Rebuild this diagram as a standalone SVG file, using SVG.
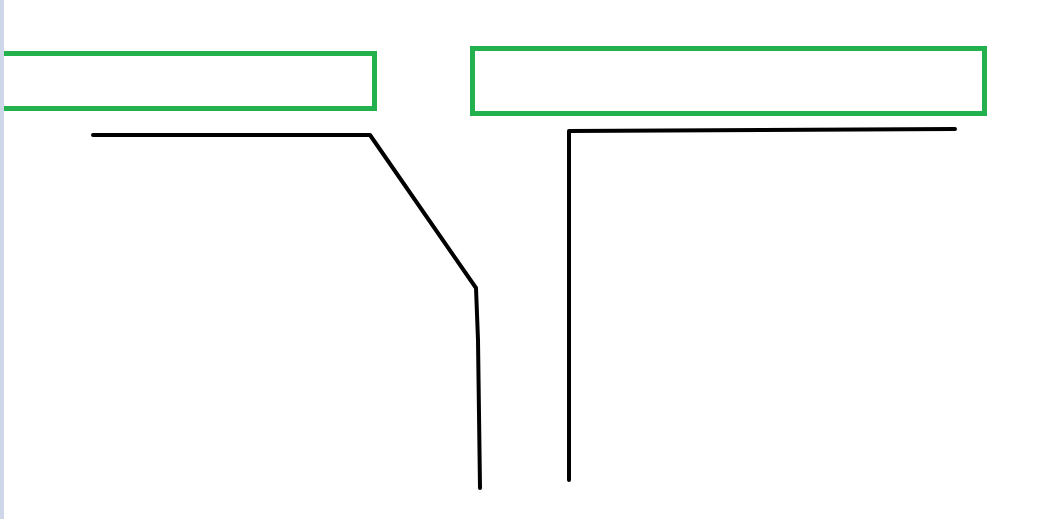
<svg xmlns="http://www.w3.org/2000/svg" width="1057" height="519" viewBox="0 0 1057 519">
<style>
.box{fill:none;stroke:#22b14c;stroke-width:5}
.ln{fill:none;stroke:#000;stroke-width:4;stroke-linecap:round;stroke-linejoin:round}
</style>
<rect width="1057" height="519" fill="#fff"/>
<g id="node-left"><rect class="box" x="-2" y="53.5" width="376.5" height="55"/></g>
<g id="node-right"><rect class="box" x="472.5" y="48.5" width="512" height="65"/></g>
<g id="connectors">
<polyline class="ln" points="93,135 370,135 476,288 478,340 480,488"/>
<polyline class="ln" points="569,480 569,131 762,130 955,129"/>
</g>
<rect x="0" y="0" width="4" height="519" fill="#cdd7e8"/>
</svg>
